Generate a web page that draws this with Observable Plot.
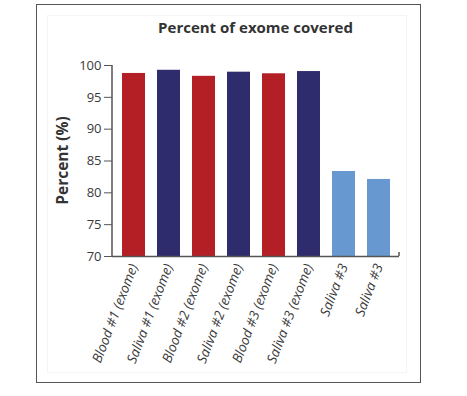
<!DOCTYPE html>
<html>
<head>
<meta charset="utf-8">
<script src="https://cdn.jsdelivr.net/npm/d3@7"></script>
<script src="https://cdn.jsdelivr.net/npm/@observablehq/plot@0.6"></script>
<style>
  html, body { margin: 0; padding: 0; background: #fff; }
  #wrap { position: relative; width: 467px; height: 396px; font-family: "Open Sans", sans-serif; }
  #border { position: absolute; left: 36px; top: 4px; width: 385px; height: 379px; border: 1.5px solid #555; box-sizing: border-box; }
  #inner { position: absolute; left: 47px; top: 15px; width: 360px; height: 358px; border: 1px solid #f4f4f4; box-sizing: border-box; }
  #title { position: absolute; left: 0; width: 511px; top: 17px; text-align: center; font-weight: bold; font-size: 15px; color: #333; }
  #chart { position: absolute; left: 0; top: 0; }
</style>
</head>
<body>
<div id="wrap">
  <div id="border"></div>
  <div id="inner"></div>
  <div id="chart"></div>
  <div id="title">Percent of exome covered</div>
</div>
<script>
const categories = ["Blood #1 (exome)", "Saliva #1 (exome)", "Blood #2 (exome)", "Saliva #2 (exome)", "Blood #3 (exome)", "Saliva #3 (exome)", "Saliva #3 ", "Saliva #3  "];
const labels = ["Blood #1 (exome)", "Saliva #1 (exome)", "Blood #2 (exome)", "Saliva #2 (exome)", "Blood #3 (exome)", "Saliva #3 (exome)", "Saliva #3", "Saliva #3"];
const values = [98.75, 99.25, 98.3, 98.95, 98.7, 99.05, 83.35, 82.1];
const groups = ["blood", "saliva", "blood", "saliva", "blood", "saliva", "saliva2", "saliva2"];
const yTicks = [70, 75, 80, 85, 90, 95, 100];

const colorMap = {blood: "#B31F24", saliva: "#2E2C6D", saliva2: "#6798D0"};
const data = categories.map((c, i) => ({cat: c, value: values[i], group: groups[i]}));

const plot = Plot.plot({
  width: 467,
  height: 396,
  marginLeft: 112,
  marginRight: 68,
  marginTop: 65,
  marginBottom: 140,
  style: {fontFamily: "'Open Sans', sans-serif", fontSize: "13px", color: "#3a3a3a", background: "transparent"},
  x: {domain: categories, paddingInner: 0.35, paddingOuter: 0.175, axis: null},
  y: {domain: [70, 100], axis: null},
  marks: [
    Plot.barY(data, {x: "cat", y1: 70, y2: "value", fill: d => colorMap[d.group], clip: true}),
    Plot.axisY({ticks: yTicks, tickSize: 8, tickPadding: 3, stroke: "#555", fill: "#3a3a3a", fontSize: 13, label: null}),
    Plot.axisX({tickSize: 0, tickPadding: 8, tickRotate: -69, tickFormat: (d, i) => labels[i], fontStyle: "italic", fontSize: 13.5, fill: "#3a3a3a", label: null}),
    Plot.ruleY([70], {stroke: "#555", strokeWidth: 1.5})
  ]
});
document.getElementById("chart").appendChild(plot);

// Axis line on the left and end tick, positioned from Plot's scales
const svg = d3.select(plot);
const ys = plot.scale("y");
const yTop = ys.apply(100), yBot = ys.apply(70);
const x0 = 112, x1 = 399;
svg.append("line").attr("x1", x0).attr("x2", x0).attr("y1", yTop).attr("y2", yBot + 0.75).attr("stroke", "#555").attr("stroke-width", 1.5);
svg.append("line").attr("x1", x1).attr("x2", x1).attr("y1", yBot - 4).attr("y2", yBot).attr("stroke", "#555").attr("stroke-width", 1.5);
svg.append("text").attr("transform", `translate(68,${(yTop + yBot) / 2}) rotate(-90)`).attr("text-anchor", "middle").attr("font-weight", "bold").attr("font-size", 15.5).attr("fill", "#333").text("Percent (%)");
</script>
</body>
</html>
